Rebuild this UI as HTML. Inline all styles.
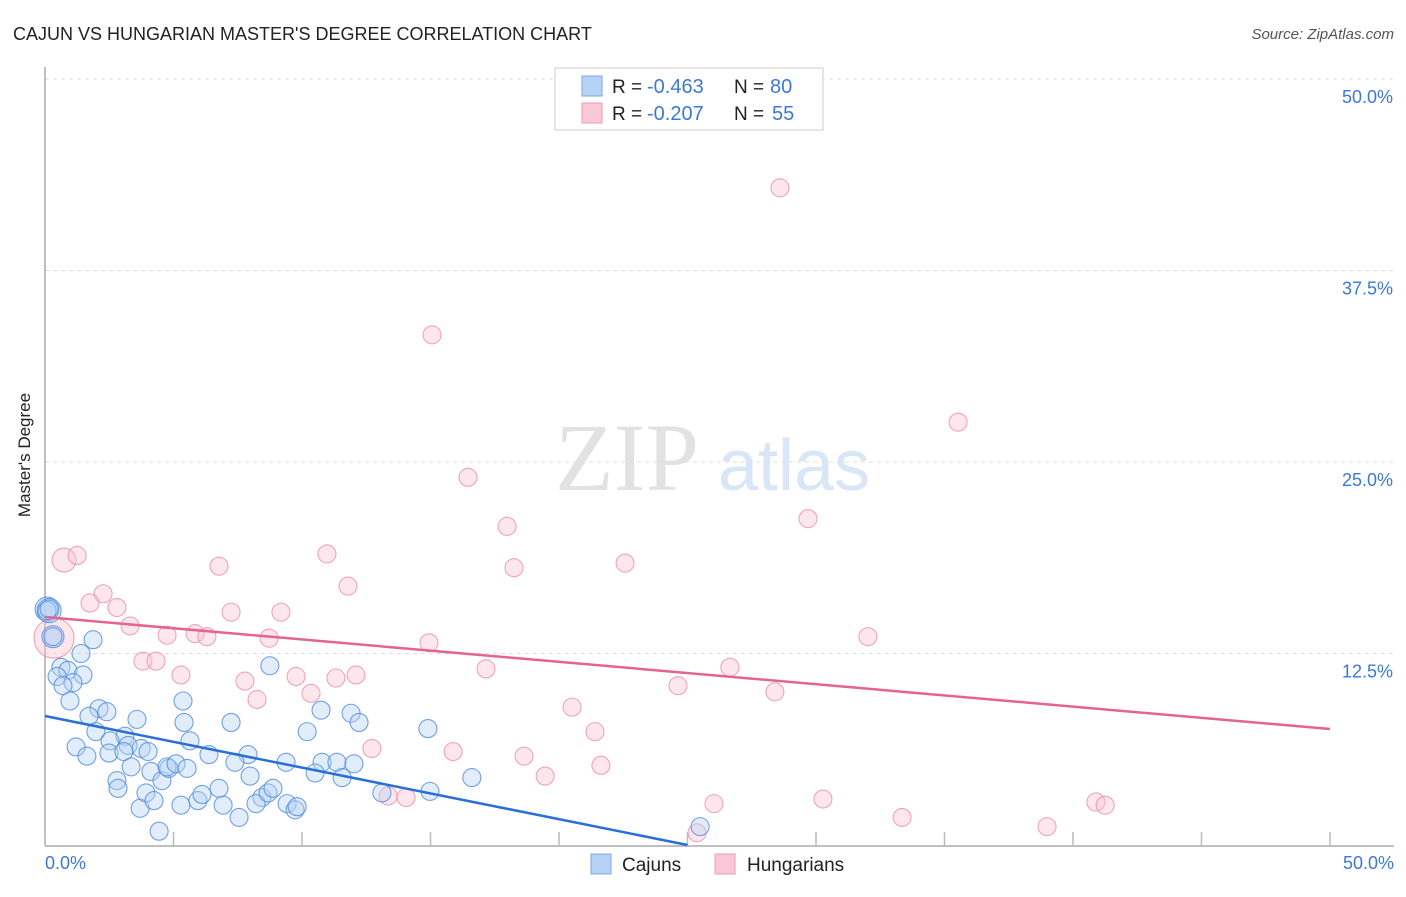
<!DOCTYPE html>
<html><head><meta charset="utf-8"><style>
body{margin:0;background:#fff;font-family:"Liberation Sans",sans-serif}
#c{position:relative;width:1406px;height:892px}
</style></head><body>
<div id="c">
<svg id="s" width="1406" height="892">
<text x="13" y="40" font-size="18" fill="#222">CAJUN VS HUNGARIAN MASTER'S DEGREE CORRELATION CHART</text>
<text x="1394" y="39" font-size="15" fill="#555" font-style="italic" text-anchor="end">Source: ZipAtlas.com</text>
<text x="30" y="455" font-size="17" fill="#222" text-anchor="middle" transform="rotate(-90 30 455)">Master's Degree</text>
<text x="555" y="490" font-size="96" fill="#e2e2e2" font-family="Liberation Serif,serif">ZIP</text>
<text x="718" y="490" font-size="72" fill="#d8e6f7">atlas</text>
</svg>
</div>
<script>
const yTicks=[12.5,25,37.5,50];
const yTickLabels=["12.5%","25.0%","37.5%","50.0%"];
const xTicks=[0,5,10,15,20,25,30,35,40,45,50];
const cajunX=[0.08,0.16,0.31,1.87,1.4,0.62,0.89,0.47,1.48,1.09,0.7,0.97,2.1,1.71,2.41,3.58,5.37,8.75,1.98,3.11,2.53,3.23,3.74,4.01,1.21,1.63,2.49,3.07,5.64,5.41,7.24,10.2,10.74,11.91,12.22,14.9,3.35,2.8,2.84,4.12,4.55,4.82,4.75,5.1,5.53,6.38,7.9,7.39,7.98,9.38,10.78,11.36,12.02,10.51,11.56,16.61,3.7,3.93,4.24,5.29,5.95,6.11,6.77,6.93,7.55,8.44,8.21,8.68,8.87,9.42,9.73,9.81,13.11,14.98,4.44,25.49,0.08,0.16,0.31];
const cajunY=[15.4,15.3,13.6,13.4,12.5,11.6,11.4,11.0,11.1,10.6,10.4,9.4,8.9,8.4,8.7,8.2,9.4,11.7,7.4,7.1,6.8,6.5,6.3,6.1,6.4,5.8,6.0,6.1,6.8,8.0,8.0,7.4,8.8,8.6,8.0,7.6,5.1,4.2,3.7,4.8,4.2,5.0,5.1,5.3,5.0,5.9,5.9,5.4,4.5,5.4,5.4,5.4,5.3,4.7,4.4,4.4,2.4,3.4,2.9,2.6,2.9,3.3,3.7,2.6,1.8,3.1,2.7,3.4,3.7,2.7,2.3,2.5,3.4,3.5,0.9,1.2,15.3,15.4,13.6];
const cajunR=[12,12,11,9,9,9,9,9,9,9,9,9,9,9,9,9,9,9,9,9,9,9,9,9,9,9,9,9,9,9,9,9,9,9,9,9,9,9,9,9,9,9,9,9,9,9,9,9,9,9,9,9,9,9,9,9,9,9,9,9,9,9,9,9,9,9,9,9,9,9,9,9,9,9,9,9,9,9,9];
const hungX=[0.74,1.25,2.26,1.75,2.8,3.31,4.75,5.84,6.3,6.77,7.24,8.72,9.18,10.97,11.79,3.81,4.32,5.29,7.78,8.25,9.77,10.35,11.32,12.1,14.94,17.16,12.72,13.35,14.05,15.06,16.46,17.98,18.25,15.88,18.64,19.46,20.51,21.4,21.63,22.57,24.63,26.65,28.4,29.69,28.6,32.02,35.53,26.03,25.37,30.27,33.35,38.99,40.89,41.25,0.35];
const hungY=[18.6,18.9,16.4,15.8,15.5,14.3,13.7,13.8,13.6,18.2,15.2,13.5,15.2,19.0,16.9,12.0,12.0,11.1,10.7,9.5,11.0,9.9,10.9,11.1,13.2,11.5,6.3,3.2,3.1,33.3,24.0,20.8,18.1,6.1,5.8,4.5,9.0,7.4,5.2,18.4,10.4,11.6,10.0,21.3,42.9,13.6,27.6,2.7,0.8,3.0,1.8,1.2,2.8,2.6,13.5];
const hungR=[12,9,9,9,9,9,9,9,9,9,9,9,9,9,9,9,9,9,9,9,9,9,9,9,9,9,9,9,9,9,9,9,9,9,9,9,9,9,9,9,9,9,9,9,9,9,9,9,9,9,9,9,9,9,20];
const cajunLine=[8.42,0,25.0];
const hungLine=[14.88,7.57,50];
const NS="http://www.w3.org/2000/svg";
const s=document.getElementById('s');
const X=v=>45+v*25.7, Y=v=>845-v*15.32;
function el(t,a){const e=document.createElementNS(NS,t);for(const k in a)e.setAttribute(k,a[k]);s.appendChild(e);return e;}
yTicks.forEach((t,i)=>{
 const g=el('line',{x1:45,x2:1394,y1:Y(t),y2:Y(t),stroke:'#ddd','stroke-dasharray':'4,4'});
 
 
 const tx=el('text',{x:1393,y:Y(t)+24,'font-size':18,fill:'#3d78d8','text-anchor':'end'});
 tx.textContent=yTickLabels[i];
 
 
});
const ax=el('line',{x1:45,x2:45,y1:67,y2:846,stroke:'#aaa','stroke-width':1.5});


const bx=el('line',{x1:45,x2:1394,y1:846,y2:846,stroke:'#aaa','stroke-width':1.5});


xTicks.forEach(t=>{
 const l=el('line',{x1:X(t),x2:X(t),y1:832,y2:846,stroke:'#bbb','stroke-width':1.5});
 
 
});
function pts(xs,ys,rs,fill,stroke,name){
 xs.forEach((v,i)=>{
  const c=el('circle',{cx:X(v),cy:Y(ys[i]),r:rs[i],fill:fill,stroke:stroke,'stroke-width':1.1,'fill-opacity':0.4,'stroke-opacity':0.8});
  
  
 });
}
pts(hungX,hungY,hungR,'#f9c3d3','#ec8fab','hungarian-point');
pts(cajunX,cajunY,cajunR,'#b6d2f4','#4d8ae0','cajun-point');
const l1=el('line',{x1:X(0),y1:Y(cajunLine[0]),x2:X(cajunLine[2]),y2:Y(cajunLine[1]),stroke:'#2a6fd6','stroke-width':2.5});


const l2=el('line',{x1:X(0),y1:Y(hungLine[0]),x2:X(hungLine[2]),y2:Y(hungLine[1]),stroke:'#e5638f','stroke-width':2.5});


function txt(x,y,str,fill,size,anchor,name){const t=el('text',{x:x,y:y,'font-size':size,fill:fill,'text-anchor':anchor||'start'});t.textContent=str;
 
 return t;}
txt(45,869,'0.0%','#3d78d8',18,'start','x-min-label');
txt(1394,869,'50.0%','#3d78d8',18,'end','x-max-label');
const lb=el('rect',{x:555,y:68,width:268,height:62,fill:'#fff',stroke:'#ccc'});


const r1=el('rect',{x:582,y:76,width:20,height:20,fill:'#b6d2f4',stroke:'#7aa8e6'});


const r2=el('rect',{x:582,y:103,width:20,height:20,fill:'#f9c8d6',stroke:'#ec9ab4'});


txt(612,93,'R =','#222',19,'start','r-label');
txt(647,93,'-0.463','#3d78d8',20,'start','cajun-r');
txt(734,93,'N =','#222',19,'start','n-label');
txt(770,93,'80','#3d78d8',20,'start','cajun-n');
txt(612,120,'R =','#222',19,'start','r-label');
txt(647,120,'-0.207','#3d78d8',20,'start','hungarian-r');
txt(734,120,'N =','#222',19,'start','n-label');
txt(772,120,'55','#3d78d8',20,'start','hungarian-n');
const b1=el('rect',{x:591,y:854,width:20,height:20,fill:'#b6d2f4',stroke:'#7aa8e6'});


txt(622,871,'Cajuns','#222',19,'start','legend-cajuns');
const b2=el('rect',{x:715,y:854,width:20,height:20,fill:'#f9c8d6',stroke:'#ec9ab4'});


txt(747,871,'Hungarians','#222',19,'start','legend-hungarians');
</script>
</body></html>
